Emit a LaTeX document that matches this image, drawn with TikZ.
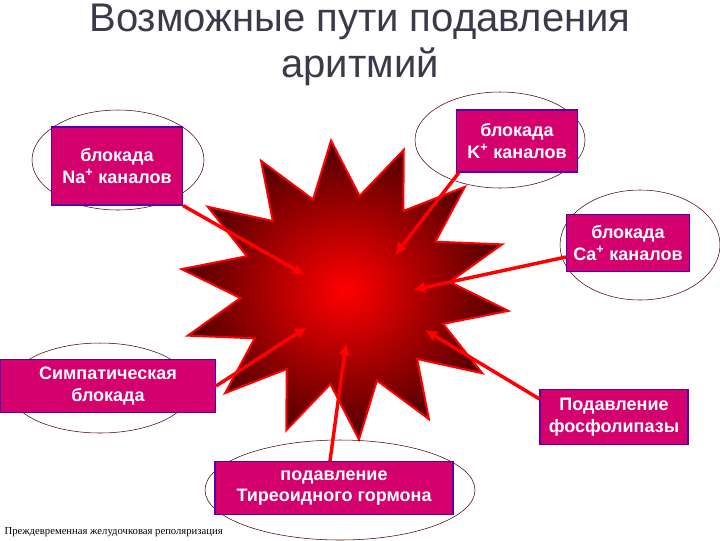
\documentclass[tikz,border=0pt]{standalone}
\usepackage{fontspec}
\setmainfont{Liberation Sans}
\newfontfamily\serifx{Liberation Serif}
\usetikzlibrary{shapes.geometric,shapes.misc,arrows.meta}
\definecolor{boxc}{HTML}{D4006E}
\definecolor{titc}{HTML}{3A3A4A}
\tikzset{
 lbl/.style={fill=boxc,draw=violet!70!blue,line width=0.8pt,text=white,font=\fontsize{13.5}{16}\selectfont\bfseries,align=center,inner sep=1pt,minimum height=#1*0.75pt},
 ell/.style={draw=black!70!red,line width=0.4pt},
 arr/.style={draw=red,line width=2.6pt,-{Latex[length=9pt,width=9pt]}}
}
\begin{document}
\begin{tikzpicture}[x=0.75pt,y=-0.75pt]
\useasboundingbox (0,0) rectangle (720,540);
% star
\shade[inner color=red, outer color=black!70!red, draw=red, line width=1.5pt]
 plot[samples=29,domain=0:28,variable=\k] ({345+ifthenelse(mod(\k,2)==0,165,105)*cos(\k*360/28+8)},{290+ifthenelse(mod(\k,2)==0,150,95)*sin(\k*360/28+8)}) -- cycle;
% ellipses
\draw[ell] (118,160) ellipse (86 and 50);
\draw[ell] (500,140) ellipse (85 and 48);
\draw[ell] (640,245) ellipse (80 and 55);
\draw[ell] (100,388) ellipse (92 and 45);
\draw[ell] (340,490) ellipse (135 and 50);
% boxes
\node[lbl=78,minimum width=131*0.75pt] (na) at (117,166) {блокада\\Na\textsuperscript{+} каналов};
\node[lbl=62,minimum width=121*0.75pt] (k) at (517,141) {блокада\\K\textsuperscript{+} каналов};
\node[lbl=57,minimum width=123*0.75pt] (ca) at (628,243) {блокада\\Ca\textsuperscript{+} каналов};
\node[lbl=53,minimum width=215*0.75pt] (sy) at (108,386) {Симпатическая\\блокада};
\node[lbl=55,minimum width=148*0.75pt] (ph) at (614,417) {Подавление\\фосфолипазы};
\node[lbl=53,minimum width=238*0.75pt] (th) at (334,488) {подавление\\Тиреоидного гормона};
% arrows
\coordinate (c1) at (305,275);
\coordinate (c2) at (395,255);
\coordinate (c3) at (413,290);
\coordinate (c4) at (307,327);
\coordinate (c5) at (425,330);
\coordinate (c6) at (346,343);
\draw[arr] (na.south east) -- (c1);
\draw[arr] (k.south west) ++(3,0) -- (c2);
\draw[arr] (ca.west) ++(0,14) -- (c3);
\draw[arr] (sy.east) -- (c4);
\draw[arr] (ph.north west) ++(0,10) -- (c5);
\draw[arr] (th.north) ++(-4,0) -- (c6);
% title
\node[text=titc,font=\fontsize{30}{34}\selectfont,align=center] (t) at (360,45) {Возможные пути подавления\\аритмий};
\node[anchor=south west,inner sep=1pt,font=\serifx\fontsize{8}{9}\selectfont] (f) at (3,538) {Преждевременная желудочковая реполяризация};
\end{tikzpicture}
\end{document}
